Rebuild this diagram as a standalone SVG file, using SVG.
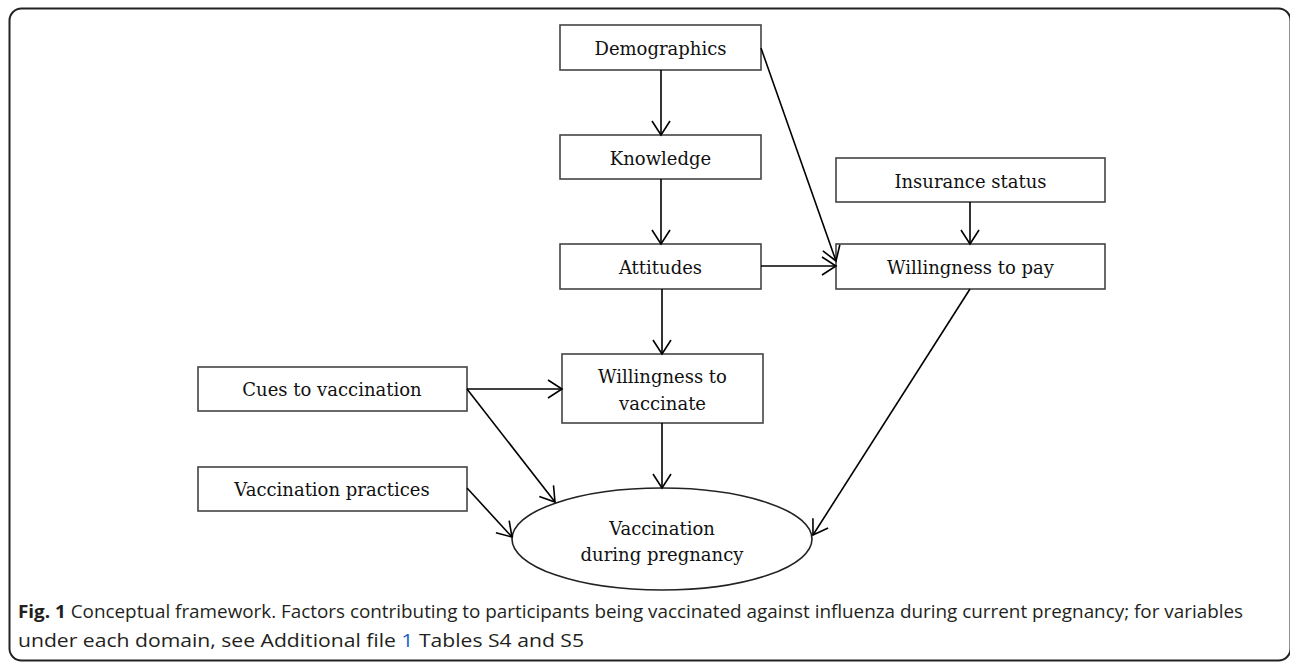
<svg xmlns="http://www.w3.org/2000/svg" width="1290" height="662" viewBox="0 0 1290 662">
<defs>
<marker id="arr" markerUnits="userSpaceOnUse" markerWidth="20" markerHeight="22" refX="16" refY="11" orient="auto">
<path d="M2,2 L16,11 L2,20" fill="none" stroke="#000" stroke-width="1.6"/>
</marker>
<style>
.box{fill:#fff;stroke:#444;stroke-width:1.6}
.lbl{font-family:"DejaVu Serif","Liberation Serif",serif;font-size:18px;fill:#111;text-anchor:middle}
.con line{stroke:#000;stroke-width:1.6;marker-end:url(#arr)}
.cap{font-family:"Open Sans","Liberation Sans",sans-serif;font-size:18.5px;fill:#231f20}
</style>
</defs>
<rect x="9.5" y="8.5" width="1281" height="652" rx="12" fill="#fff" stroke="#222" stroke-width="2"/>
<g id="demographics"><rect class="box" x="560" y="25" width="201" height="45"/><text class="lbl" x="660.5" y="55">Demographics</text></g>
<g id="knowledge"><rect class="box" x="560" y="135" width="201" height="44"/><text class="lbl" x="660.5" y="165">Knowledge</text></g>
<g id="attitudes"><rect class="box" x="560" y="244" width="201" height="45"/><text class="lbl" x="660.5" y="274">Attitudes</text></g>
<g id="insurance"><rect class="box" x="836" y="158" width="269" height="44"/><text class="lbl" x="970.5" y="188">Insurance status</text></g>
<g id="wtp"><rect class="box" x="836" y="244" width="269" height="45"/><text class="lbl" x="970.5" y="274">Willingness to pay</text></g>
<g id="wtv"><rect class="box" x="562" y="354" width="201" height="69"/><text class="lbl" x="662.5" y="383">Willingness to</text><text class="lbl" x="662.5" y="410">vaccinate</text></g>
<g id="cues"><rect class="box" x="198" y="367" width="269" height="44"/><text class="lbl" x="332" y="396">Cues to vaccination</text></g>
<g id="practices"><rect class="box" x="198" y="467" width="269" height="44"/><text class="lbl" x="332" y="496">Vaccination practices</text></g>
<g id="outcome"><ellipse cx="662" cy="539" rx="150" ry="51" fill="#fff" stroke="#222" stroke-width="1.6"/><text class="lbl" x="662" y="535">Vaccination</text><text class="lbl" x="662" y="561">during pregnancy</text></g>
<g id="connectors" class="con">
<line x1="661" y1="70" x2="661" y2="135"/>
<line x1="661" y1="179" x2="661" y2="244"/>
<line x1="662" y1="289" x2="662" y2="354"/>
<line x1="761" y1="48" x2="836" y2="261"/>
<line x1="761" y1="266" x2="836" y2="266"/>
<line x1="970" y1="202" x2="970" y2="244"/>
<line x1="467" y1="389" x2="562" y2="389"/>
<line x1="467" y1="389" x2="555" y2="502"/>
<line x1="467" y1="488" x2="512" y2="537"/>
<line x1="662" y1="423" x2="662" y2="488"/>
<line x1="970" y1="289" x2="813" y2="535"/>
</g>
<g id="caption">
<text class="cap" x="18" y="618" textLength="1225" lengthAdjust="spacingAndGlyphs"><tspan font-weight="bold">Fig. 1</tspan> Conceptual framework. Factors contributing to participants being vaccinated against influenza during current pregnancy; for variables</text>
<text class="cap" x="18" y="647" textLength="566" lengthAdjust="spacingAndGlyphs">under each domain, see Additional file <tspan fill="#1a5fc8">1</tspan> Tables S4 and S5</text>
</g>
</svg>
